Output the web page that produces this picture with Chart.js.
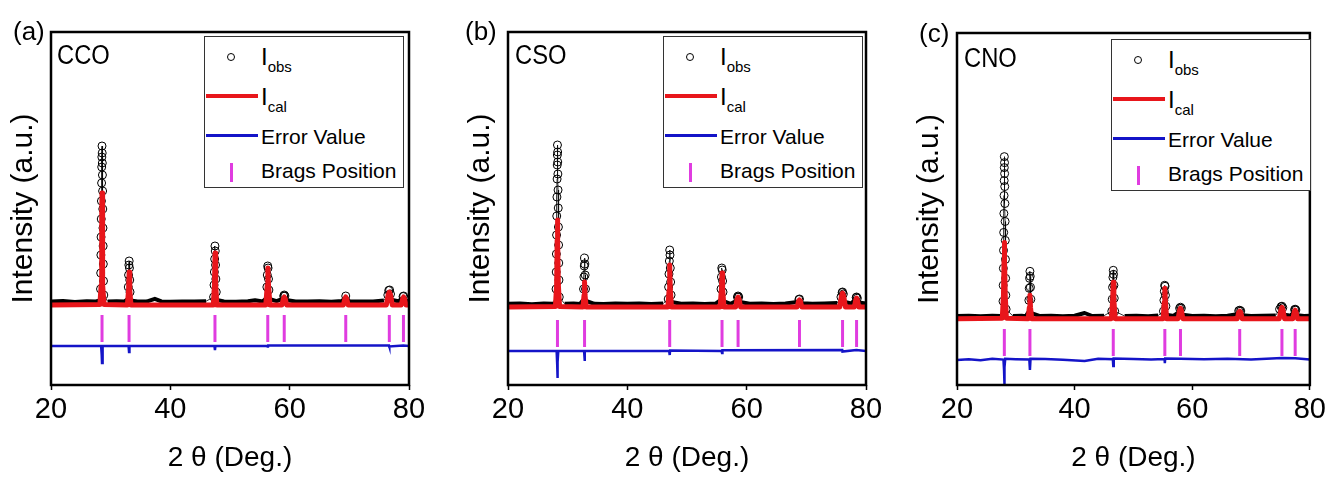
<!DOCTYPE html>
<html>
<head>
<meta charset="utf-8">
<script src="https://cdn.jsdelivr.net/npm/chart.js@4.4.0/dist/chart.umd.min.js"></script>
<style>
body{margin:0;width:1329px;height:477px;overflow:hidden;background:#fff;position:relative;font-family:"Liberation Sans",Arial,sans-serif}
canvas{position:absolute;top:0}
.tag{position:absolute;font-size:26px;line-height:1;z-index:2}
.name{position:absolute;font-size:27px;line-height:1;z-index:2;transform:scaleX(0.88);transform-origin:left top}
.legend{position:absolute;width:200px;height:152px;border:1.5px solid #333;box-sizing:border-box;background:#fff;z-index:2}
.legend .txt{position:absolute;left:56px;font-size:21px;line-height:1;white-space:nowrap;transform:translateY(-50%)}
.legend .txt sub{font-size:15px;vertical-align:-7px}
.legend .big{font-size:24px}
.dot{position:absolute;left:22px;top:16px;width:8px;height:8px;border:1px solid #000;border-radius:50%;box-sizing:border-box}
.ln{position:absolute;left:1px;width:52px;height:4px}
.tick{position:absolute;left:25px;top:126px;width:3px;height:19px;background:#e03ce0}
</style>
</head>
<body>
<canvas id="ca" width="443" height="477" style="left:0px"></canvas>
<canvas id="cb" width="443" height="477" style="left:457px"></canvas>
<canvas id="cc" width="423" height="477" style="left:906px"></canvas>

<div class="tag" style="left:13px;top:18px">(a)</div>
<div class="tag" style="left:465px;top:18px">(b)</div>
<div class="tag" style="left:919px;top:20px">(c)</div>
<div class="name" style="left:57px;top:42px">CCO</div>
<div class="name" style="left:515px;top:42px">CSO</div>
<div class="name" style="left:964px;top:45px">CNO</div>

<div class="legend" style="left:204px;top:36px">
  <div class="dot"></div><div class="txt big" style="top:22px">I<sub>obs</sub></div>
  <div class="ln" style="top:57px;background:#e8161b"></div><div class="txt big" style="top:62px">I<sub>cal</sub></div>
  <div class="ln" style="top:97px;height:3px;background:#1414c8"></div><div class="txt" style="top:99px">Error Value</div>
  <div class="tick"></div><div class="txt" style="top:133px">Brags Position</div>
</div>
<div class="legend" style="left:663px;top:36px">
  <div class="dot"></div><div class="txt big" style="top:22px">I<sub>obs</sub></div>
  <div class="ln" style="top:57px;background:#e8161b"></div><div class="txt big" style="top:62px">I<sub>cal</sub></div>
  <div class="ln" style="top:97px;height:3px;background:#1414c8"></div><div class="txt" style="top:99px">Error Value</div>
  <div class="tick"></div><div class="txt" style="top:133px">Brags Position</div>
</div>
<div class="legend" style="left:1111px;top:39px">
  <div class="dot"></div><div class="txt big" style="top:22px">I<sub>obs</sub></div>
  <div class="ln" style="top:57px;background:#e8161b"></div><div class="txt big" style="top:62px">I<sub>cal</sub></div>
  <div class="ln" style="top:97px;height:3px;background:#1414c8"></div><div class="txt" style="top:99px">Error Value</div>
  <div class="tick"></div><div class="txt" style="top:133px">Brags Position</div>
</div>

<script>
const xTickValues = [20, 40, 60, 80];
const yRange = [0, 3530];

// CCO
const ccoObs = [[20,835],[22,840],[24,830],[26,838],[27.5,835],[28.0,842],
  [28.25,860],[28.3,960],[28.33,1120],[28.36,1300],[28.39,1480],[28.42,1660],[28.45,1840],[28.48,2020],[28.5,2180],[28.52,2280],[28.55,2390],[28.58,2320],[28.6,2220],[28.62,2100],[28.65,1940],[28.68,1760],[28.71,1570],[28.74,1390],[28.77,1210],[28.8,1040],[28.85,900],
  [29.5,836],[31,838],[32.3,834],
  [32.85,860],[32.95,980],[33.0,1100],[33.05,1200],[33.1,1240],[33.15,1170],[33.2,1050],[33.25,930],[33.4,845],
  [34.5,836],[36,834],[37.4,862],[38.5,836],[40,832],[42,836],[44,834],[46,838],
  [47.25,880],[47.32,1000],[47.38,1130],[47.43,1260],[47.48,1390],[47.53,1340],[47.58,1200],[47.63,1060],[47.7,930],[47.8,850],
  [49,836],[51,832],[53,838],[54.2,848],[55.5,836],
  [56.1,870],[56.18,980],[56.25,1100],[56.32,1190],[56.38,1170],[56.45,1060],[56.52,950],[56.6,860],
  [57.8,838],[58.8,860],[59.0,890],[59.1,900],[59.2,890],[59.4,850],
  [61,836],[63,834],[65,838],[67,832],[68.8,840],[69.2,870],[69.4,890],[69.6,865],[70,838],
  [72,836],[74,834],[75.8,845],[76.45,900],[76.6,945],[76.75,950],[76.9,910],[77.2,850],[78.2,838],[78.8,860],[79.0,885],[79.1,890],[79.25,875],[79.5,845],[80,836]];
const ccoObsBase = 836;
const ccoCal = [[20,800],[28.2,805],[28.4,1000],[28.5,1700],[28.55,1920],[28.6,1700],[28.7,1000],[28.9,805],
  [32.8,800],[33.0,950],[33.1,1130],[33.2,950],[33.4,800],[47.2,800],[47.4,1000],[47.5,1320],[47.6,1000],[47.8,800],
  [56.0,800],[56.25,1000],[56.35,1170],[56.45,1000],[56.7,800],[58.7,800],[58.95,865],[59.1,880],[59.25,865],[59.5,800],
  [69.0,800],[69.25,865],[69.4,880],[69.55,865],[69.8,800],[76.2,800],[76.5,900],[76.7,930],[76.9,900],[77.2,800],
  [78.7,800],[78.95,865],[79.1,880],[79.25,865],[79.5,800],[80,800]];
const ccoErr = [[20,390],[28.4,390],[28.5,300],[28.55,220],[28.6,330],[28.7,390],[33.0,390],[33.08,330],[33.15,390],
  [47.4,390],[47.48,350],[47.55,390],[56.3,390],[56.35,375],[56.4,395],[76.65,395],[76.7,385],[79.05,395],[80,390]];
const ccoBragg = [28.55, 33.08, 47.48, 56.33, 59.09, 69.40, 76.70, 79.07];
const ccoBraggLevel = 565;

// CSO
const csoObs = [[20,812],[22,815],[24,808],[26,814],[27.5,812],[27.95,820],
  [28.0,850],[28.05,960],[28.08,1130],[28.11,1310],[28.14,1500],[28.17,1690],[28.2,1880],[28.23,2060],[28.25,2200],[28.27,2300],[28.29,2400],[28.32,2330],[28.34,2230],[28.36,2110],[28.39,1950],[28.42,1770],[28.45,1580],[28.48,1400],[28.51,1220],[28.54,1050],[28.59,880],
  [29.5,812],[31,815],[32.1,810],
  [32.58,850],[32.66,960],[32.72,1080],[32.78,1190],[32.83,1270],[32.88,1210],[32.93,1100],[32.99,960],[33.1,840],
  [34.5,812],[36,810],[38,814],[40,812],[42,816],[44,810],[46,814],
  [46.85,860],[46.92,980],[46.98,1110],[47.04,1240],[47.1,1350],[47.15,1300],[47.2,1170],[47.26,1030],[47.33,900],[47.42,830],
  [49,812],[51,815],[53,810],[54.8,814],
  [55.62,850],[55.7,960],[55.77,1080],[55.83,1170],[55.9,1150],[55.97,1040],[56.04,930],[56.12,840],
  [57.3,812],[58.25,840],[58.45,880],[58.56,890],[58.67,880],[58.9,830],
  [60.5,812],[62.5,815],[64.5,810],[66.5,814],[68.5,830],[68.75,855],[68.85,860],[69.0,850],[69.3,818],
  [71,812],[73,815],[75.2,820],[75.8,880],[76.0,925],[76.07,930],[76.2,910],[76.5,830],[77.5,815],[78.15,850],[78.35,875],[78.42,880],[78.55,868],[78.85,825],[80,815]];
const csoObsBase = 812;
const csoCal = [[20,780],[27.95,785],[28.15,1000],[28.24,1450],[28.29,1650],[28.34,1450],[28.44,1000],[28.64,785],
  [32.55,780],[32.75,900],[32.83,1030],[32.91,900],[33.1,780],[46.8,780],[47.0,950],[47.1,1200],[47.2,950],[47.4,780],
  [55.55,780],[55.77,960],[55.87,1120],[55.97,960],[56.2,780],[58.15,780],[58.4,860],[58.56,880],[58.72,860],[58.98,780],
  [68.45,780],[68.7,840],[68.85,850],[69.0,840],[69.25,780],[75.6,780],[75.88,890],[76.07,920],[76.26,890],[76.55,780],
  [78.05,780],[78.28,850],[78.42,870],[78.56,850],[78.8,780],[80,780]];
const csoErr = [[20,340],[28.15,340],[28.25,200],[28.29,70],[28.33,230],[28.43,340],[32.75,340],[32.83,240],[32.9,340],
  [47.02,340],[47.1,300],[47.17,345],[55.8,340],[55.87,320],[55.94,348],[76.02,350],[76.07,335],[78.38,350],[80,340]];
const csoBragg = [28.29, 32.83, 47.10, 55.87, 58.56, 68.85, 76.07, 78.42];
const csoBraggLevel = 515;

// CNO
const cnoObs = [[20,692],[22,695],[24,690],[26,694],[27.4,692],[27.75,700],
  [27.78,730],[27.82,840],[27.85,1000],[27.88,1170],[27.91,1350],[27.94,1530],[27.97,1720],[28.0,1900],[28.02,2050],[28.04,2180],[28.05,2290],[28.08,2230],[28.1,2120],[28.12,1990],[28.15,1820],[28.18,1640],[28.21,1450],[28.24,1260],[28.27,1070],[28.3,900],[28.35,760],
  [29.5,692],[31,695],[31.7,690],
  [32.15,730],[32.22,850],[32.28,970],[32.34,1070],[32.4,1140],[32.45,1090],[32.5,980],[32.56,860],[32.66,720],
  [34,692],[36,695],[38,690],[40,694],[41.7,722],[43,692],[45,695],
  [46.32,740],[46.39,860],[46.45,980],[46.51,1080],[46.57,1150],[46.62,1110],[46.68,1000],[46.74,870],[46.82,740],
  [48.5,692],[50.5,695],[52.5,690],[54.2,696],
  [55.1,740],[55.18,850],[55.25,940],[55.31,1000],[55.37,990],[55.44,900],[55.52,790],[55.62,705],
  [56.8,692],[57.6,725],[57.85,770],[58.0,780],[58.15,770],[58.4,705],
  [60,692],[62,695],[64,690],[66,694],[67.65,710],[67.9,745],[68.07,750],[68.25,742],[68.5,700],
  [70,692],[72,695],[74.2,698],[74.85,760],[75.1,785],[75.25,790],[75.4,775],[75.7,705],[76.8,695],[77.2,730],[77.4,755],[77.5,760],[77.62,752],[77.9,700],[79,692],[80,695]];
const cnoObsBase = 692;
const cnoCal = [[20,665],[27.7,670],[27.9,900],[28.0,1250],[28.05,1430],[28.1,1250],[28.2,900],[28.4,670],
  [32.1,665],[32.3,780],[32.4,900],[32.5,780],[32.7,665],[46.25,665],[46.47,850],[46.57,1030],[46.67,850],[46.9,665],
  [55.05,665],[55.24,830],[55.34,970],[55.44,830],[55.65,665],[57.6,665],[57.85,750],[58.0,770],[58.15,750],[58.4,665],
  [67.65,665],[67.9,730],[68.07,740],[68.24,730],[68.5,665],[74.8,665],[75.08,755],[75.25,780],[75.42,755],[75.7,665],
  [77.1,665],[77.35,735],[77.5,750],[77.65,735],[77.9,665],[80,665]];
const cnoErr = [[20,250],[22,258],[24,248],[26,262],[27.9,255],[28.0,150],[28.05,0],[28.1,180],[28.2,262],[30,258],
  [32.3,255],[32.4,150],[32.5,262],[35,260],[38,252],[41.7,240],[44,262],[46.5,258],[46.57,190],[46.65,265],
  [50,260],[53,256],[55.3,260],[55.34,220],[55.4,265],[58,262],[62,258],[66,262],[70,256],[75.25,270],[77.5,268],[80,256]];
const cnoBragg = [28.05, 32.40, 46.57, 55.34, 58.00, 68.07, 75.25, 77.50];
const cnoBraggLevel = 425;

const pts = arr => arr.map(p => ({x: p[0], y: p[1]}));

// black frame round the plot area
const frame = {
  id: 'frame',
  afterDatasetsDraw(chart) {
    const {ctx, chartArea: a} = chart;
    ctx.save();
    ctx.lineWidth = 2.5;
    ctx.strokeStyle = '#000';
    ctx.strokeRect(a.left, a.top, a.right - a.left, a.bottom - a.top);
    ctx.restore();
  }
};

function makeChart(id, top, padRight, obs, obsBase, cal, err, bragg, braggLevel) {
  const inPeak = v => v > obsBase + 40;
  new Chart(document.getElementById(id), {
    type: 'scatter',
    data: {
      datasets: [
        {label: 'Ical', data: pts(cal), showLine: true, borderColor: '#e8161b', borderWidth: 5, pointRadius: 0,
          borderJoinStyle: 'round'},
        {label: 'Iobs', data: pts(obs), showLine: true, borderColor: '#000', borderWidth: 4, borderJoinStyle: 'round',
          segment: {borderWidth: c => (inPeak(c.p0.parsed.y) || inPeak(c.p1.parsed.y) ? 0.8 : 4)},
          // circles only where the pattern rises above the background band
          pointRadius: c => (c.raw && inPeak(c.raw.y) ? 4 : 0),
          pointBorderWidth: 1, pointBorderColor: '#000', pointBackgroundColor: 'rgba(255,255,255,0)'},
        {label: 'Error Value', data: pts(err), showLine: true, borderColor: '#1414c8', borderWidth: 2.5, pointRadius: 0},
        {label: 'Brags Position', data: bragg.map(x => ({x: x, y: braggLevel})), pointStyle: 'line', rotation: 90,
          pointRadius: 13.5, pointBorderWidth: 3, pointBorderColor: '#e03ce0', pointBackgroundColor: '#e03ce0'}
      ]
    },
    options: {
      responsive: false,
      animation: false,
      events: [],
      layout: {padding: {top: top, right: padRight, left: 0, bottom: 0}},
      plugins: {legend: {display: false}, tooltip: {enabled: false}},
      scales: {
        x: {
          min: 20, max: 80,
          afterBuildTicks: s => { s.ticks = xTickValues.map(v => ({value: v})); },
          afterFit: s => { s.height = 92; },
          border: {display: false},
          grid: {drawOnChartArea: false, drawTicks: true, tickLength: 5, tickColor: '#000', tickWidth: 1.5},
          ticks: {color: '#000', padding: 3, maxRotation: 0,
            font: {family: '"Liberation Sans", Arial', size: 29}},
          title: {display: true, text: '2 \u03b8 (Deg.)', color: '#000', padding: {top: 0, bottom: 2},
            font: {family: '"Liberation Sans", Arial', size: 28}}
        },
        y: {
          min: yRange[0], max: yRange[1],
          afterFit: s => { s.width = 51; },
          border: {display: false},
          grid: {display: false},
          ticks: {display: false},
          title: {display: true, text: 'Intensity (a.u.)', color: '#000', padding: {top: 9, bottom: 0},
            font: {family: '"Liberation Sans", Arial', size: 30, lineHeight: 1}}
        }
      }
    },
    plugins: [frame]
  });
}

makeChart('ca', 32, 34, ccoObs, ccoObsBase, ccoCal, ccoErr, ccoBragg, ccoBraggLevel);
makeChart('cb', 32, 34, csoObs, csoObsBase, csoCal, csoErr, csoBragg, csoBraggLevel);
makeChart('cc', 33, 14, cnoObs, cnoObsBase, cnoCal, cnoErr, cnoBragg, cnoBraggLevel);
</script>
</body>
</html>
